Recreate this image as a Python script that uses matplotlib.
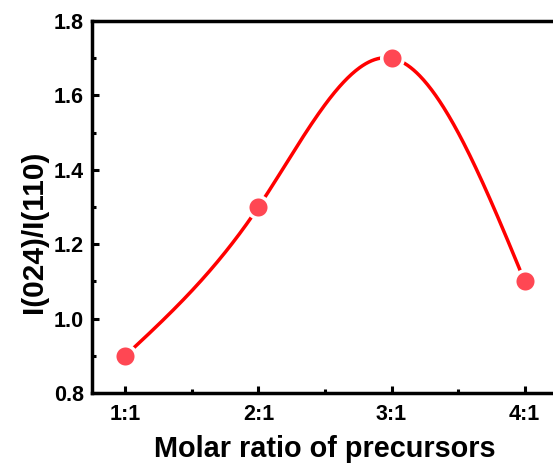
import numpy as np
import matplotlib
matplotlib.use("Agg")
import matplotlib.pyplot as plt
from matplotlib.ticker import MultipleLocator, FormatStrFormatter

ratios = ["1:1", "2:1", "3:1", "4:1"]
intensity_ratio = [0.9, 1.3, 1.7, 1.1]


def natural_cubic_spline(x, y, xs):
    x = np.asarray(x, float)
    y = np.asarray(y, float)
    n = len(x)
    h = np.diff(x)
    A = np.zeros((n, n))
    b = np.zeros(n)
    A[0, 0] = A[-1, -1] = 1.0
    for i in range(1, n - 1):
        A[i, i - 1] = h[i - 1]
        A[i, i] = 2 * (h[i - 1] + h[i])
        A[i, i + 1] = h[i]
        b[i] = 3 * ((y[i + 1] - y[i]) / h[i] - (y[i] - y[i - 1]) / h[i - 1])
    c = np.linalg.solve(A, b)
    out = np.empty_like(xs)
    for k, xv in enumerate(xs):
        i = min(max(np.searchsorted(x, xv) - 1, 0), n - 2)
        dx = xv - x[i]
        bi = (y[i + 1] - y[i]) / h[i] - h[i] * (2 * c[i] + c[i + 1]) / 3
        di = (c[i + 1] - c[i]) / (3 * h[i])
        out[k] = y[i] + bi * dx + c[i] * dx ** 2 + di * dx ** 3
    return out


plt.rcParams["font.family"] = ["Liberation Sans", "DejaVu Sans"]
plt.rcParams["font.weight"] = "bold"

fig = plt.figure(figsize=(5.53, 4.66), dpi=100)
ax = fig.add_axes([92 / 553, 73 / 466, 466 / 553, 372 / 466])

xpos = np.arange(1, len(ratios) + 1)
xs = np.linspace(1, 4, 400)
ax.plot(xs, natural_cubic_spline(xpos, intensity_ratio, xs), color="#ff0000", lw=2.5, zorder=2)
ax.plot(xpos, intensity_ratio, "o", ms=15.5, color="#ff4753",
        mec="white", mew=2.5, zorder=3, clip_on=False)

ax.set_xlim(0.75, 4.25)
ax.set_ylim(0.8, 1.8)
ax.set_xticks(xpos)
ax.set_xticklabels(ratios)
ax.xaxis.set_minor_locator(MultipleLocator(0.5))
ax.yaxis.set_major_locator(MultipleLocator(0.2))
ax.yaxis.set_minor_locator(MultipleLocator(0.1))
ax.yaxis.set_major_formatter(FormatStrFormatter("%.1f"))

for s in ax.spines.values():
    s.set_linewidth(2.5)
ax.tick_params(which="major", direction="in", length=5, width=2.2, labelsize=15.5)
ax.tick_params(axis="x", which="major", pad=8)
ax.tick_params(axis="y", which="major", pad=6)
ax.tick_params(which="minor", direction="in", length=3, width=2.2)
ax.tick_params(axis="both", which="both", top=False, right=False)
for lbl in ax.get_xticklabels() + ax.get_yticklabels():
    lbl.set_fontweight("bold")

ax.set_xlabel("Molar ratio of precursors", fontsize=20.8, fontweight="bold")
ax.set_ylabel("I(024)/I(110)", fontsize=21.5, fontweight="bold")
ax.xaxis.set_label_coords(0.5, -0.112)
ax.yaxis.set_label_coords(-0.094, 0.433)

fig.savefig("out.png", dpi=100)
